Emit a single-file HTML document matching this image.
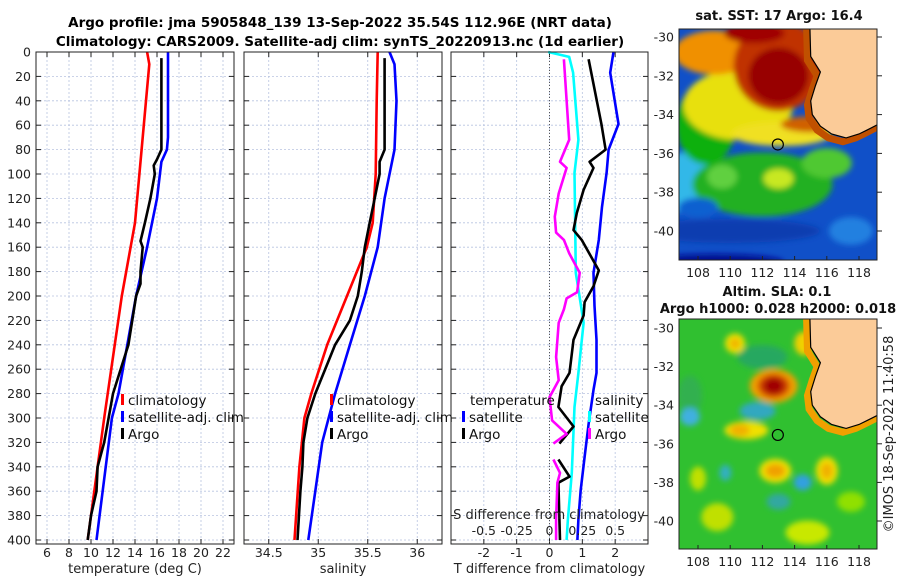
<!DOCTYPE html>
<html><head><meta charset="utf-8"><style>
body{margin:0;background:#fff;}
svg{display:block;font-family:"DejaVu Sans","Liberation Sans",sans-serif;}
</style></head><body>
<svg id="c" width="900" height="580" viewBox="0 0 900 580">
<defs>
<filter id="bl" x="-20%" y="-20%" width="140%" height="140%"><feGaussianBlur stdDeviation="3"/></filter>
<clipPath id="m1"><rect x="679" y="29" width="198" height="231"/></clipPath>
<clipPath id="m2"><rect x="679" y="319" width="198" height="230"/></clipPath>
</defs>
<text x="340" y="27" font-size="13.5" font-weight="bold" text-anchor="middle">Argo profile: jma 5905848_139 13-Sep-2022 35.54S 112.96E (NRT data)</text>
<text x="340" y="46" font-size="13.5" font-weight="bold" text-anchor="middle">Climatology: CARS2009. Satellite-adj clim: synTS_20220913.nc (1d earlier)</text>
<g id="plots"></g>
<g id="maps"></g>
</svg>
<script>
// ---- data (depth in m) ----
const tClimDepth=[0,10,40,80,140,200,300,400];
const tClimVal=[15.1,15.3,15.0,14.6,14.0,12.8,11.2,9.7];
const tSatDepth=[0,70,80,90,120,160,200,280,300,400];
const tSatVal=[17.0,17.0,16.9,16.4,16.0,15.1,14.1,12.5,11.9,10.5];
const tArgoDepth=[5,80,88,93,100,120,140,155,160,180,190,200,240,280,320,340,360,380,400];
const tArgoVal=[16.4,16.4,16.0,15.7,15.8,15.4,14.9,14.5,14.7,14.5,14.5,14.1,13.4,12.0,11.2,10.6,10.5,10.0,9.7];
const sClimDepth=[0,40,100,140,160,200,240,280,300,340,400];
const sClimVal=[35.60,35.59,35.58,35.55,35.49,35.29,35.09,34.93,34.86,34.81,34.76];
const sSatDepth=[0,10,40,80,120,160,200,240,280,320,360,400];
const sSatVal=[35.72,35.77,35.79,35.77,35.67,35.60,35.47,35.32,35.17,35.04,34.97,34.90];
const sArgoDepth=[5,40,80,90,100,120,140,160,180,200,220,240,260,280,300,320,340,360,400];
const sArgoVal=[35.67,35.67,35.67,35.62,35.62,35.57,35.52,35.47,35.44,35.40,35.32,35.17,35.07,34.97,34.89,34.85,34.84,34.82,34.79];
const dTArgoDepth=[6,59,80,90,95,113,132,146,154,179,192,205,216,236,263,274,291,307,321];
const dTArgoVal=[1.19,1.58,1.71,1.22,1.34,1.04,0.83,0.73,0.98,1.5,1.34,1.07,1.04,0.73,0.61,0.37,0.27,0.73,0.30];
const dTArgo2Depth=[334,348,353,383,400];
const dTArgo2Val=[0.27,0.61,0.27,0.30,0.32];
const dSArgoDepth=[6,72,90,95,116,135,148,154,165,181,197,202,211,222,250,269,283,302,313,321];
const dSArgoVal=[0.11,0.15,0.08,0.13,0.07,0.04,0.05,0.11,0.15,0.23,0.21,0.13,0.11,0.07,0.05,0.07,0.0,0.02,0.13,0.03];
const dSArgo2Depth=[334,345,353,383,400];
const dSArgo2Val=[0.03,0.08,0.06,0.05,0.05];
const dSSatDepth=[0,4,17,45,72,99,181,208,222,263,291,345,383,400];
const dSSatVal=[-0.01,0.15,0.18,0.20,0.22,0.19,0.20,0.24,0.26,0.22,0.19,0.17,0.14,0.13];
const dTSatDepth=[0,17,59,80,99,127,154,181,208,236,263,277,305,332,359,383,400];
const dTSatVal=[1.95,1.85,2.1,1.8,1.74,1.6,1.5,1.34,1.37,1.43,1.43,1.34,1.19,1.07,0.95,0.88,0.85];
const depthTicks=[0,20,40,60,80,100,120,140,160,180,200,220,240,260,280,300,320,340,360,380,400];
const tTicks=[6,8,10,12,14,16,18,20,22];
const sTicks=[34.5,35,35.5,36];
const dTTicks=[-2,-1,0,1,2];
const dSTickVals=[-0.5,-0.25,0,0.25,0.5];
const dSTickLabels=["-0.5","-0.25","0","0.25","0.5"];
const lonTicks=[108,110,112,114,116,118];
const latTicks=[-30,-32,-34,-36,-38,-40];

const NS="http://www.w3.org/2000/svg";
function mk(tag,attrs,parent){const e=document.createElementNS(NS,tag);for(const k in attrs)e.setAttribute(k,attrs[k]);parent.appendChild(e);return e;}
const P=document.getElementById('plots');
const Y0=52,Y1=540,YB=544;
const y=d=>Y0+d*(Y1-Y0)/400;
function axis(x0,x1,min,max){return v=>x0+(v-min)*(x1-x0)/(max-min);}
const panels=[
 {x0:36,x1:234,min:5,max:23,ticks:tTicks,label:"temperature (deg C)",name:"temperature-panel"},
 {x0:244,x1:442,min:34.25,max:36.25,ticks:sTicks,label:"salinity",name:"salinity-panel"},
 {x0:451,x1:648,min:-3,max:3,ticks:dTTicks,label:"T difference from climatology",name:"difference-panel"}
];
panels.forEach((p,i)=>{
 const g=mk('g',{},P);
 
 
 p.fx=axis(p.x0,p.x1,p.min,p.max);
 depthTicks.forEach(d=>{
  const l=mk('line',{x1:p.x0,x2:p.x1,y1:y(d),y2:y(d),stroke:'#b8c4e0','stroke-width':0.8,'stroke-dasharray':'2,2'},g);
  
  
  mk('line',{x1:p.x0,x2:p.x0+5,y1:y(d),y2:y(d),stroke:'#222'},g);
  mk('line',{x1:p.x1-5,x2:p.x1,y1:y(d),y2:y(d),stroke:'#222'},g);
  if(i==0){const t=mk('text',{x:p.x0-5,y:y(d)+4.5,'font-size':12.5,'text-anchor':'end',fill:'#222'},g);t.textContent=d;
   }
 });
 p.ticks.forEach(v=>{
  const X=p.fx(v);
  mk('line',{x1:X,x2:X,y1:Y0,y2:YB,stroke:'#b8c4e0','stroke-width':0.8,'stroke-dasharray':'2,2'},g);
  mk('line',{x1:X,x2:X,y1:YB-5,y2:YB,stroke:'#222'},g);
  mk('line',{x1:X,x2:X,y1:Y0,y2:Y0+5,stroke:'#222'},g);
  const t=mk('text',{x:X,y:557,'font-size':12.5,'text-anchor':'middle',fill:'#222'},g);t.textContent=v;
  
 });
 const xt=mk('text',{x:(p.x0+p.x1)/2,y:573,'font-size':13,'text-anchor':'middle',fill:'#222'},g);xt.textContent=p.label;
 
 p.g=g;
});
function line(g,fx,ds,vs,color,name){
 const pts=ds.map((d,i)=>fx(vs[i]).toFixed(1)+','+y(d).toFixed(1)).join(' ');
 const l=mk('polyline',{points:pts,fill:'none',stroke:color,'stroke-width':2.6,'stroke-linejoin':'round'},g);
 
 
}
const [pT,pS,pD]=panels;
line(pT.g,pT.fx,tClimDepth,tClimVal,'#f00','temp-climatology-line');
line(pT.g,pT.fx,tSatDepth,tSatVal,'#00f','temp-satellite-line');
line(pT.g,pT.fx,tArgoDepth,tArgoVal,'#000','temp-argo-line');
line(pS.g,pS.fx,sClimDepth,sClimVal,'#f00','sal-climatology-line');
line(pS.g,pS.fx,sSatDepth,sSatVal,'#00f','sal-satellite-line');
line(pS.g,pS.fx,sArgoDepth,sArgoVal,'#000','sal-argo-line');
const fS=axis(451,648,-0.75,0.75);
mk('line',{x1:pD.fx(0),x2:pD.fx(0),y1:Y0,y2:YB,stroke:'#555','stroke-dasharray':'1,2'},pD.g);
line(pD.g,fS,dSSatDepth,dSSatVal,'#0ff','diff-sal-satellite-line');
line(pD.g,pD.fx,dTSatDepth,dTSatVal,'#00f','diff-temp-satellite-line');
line(pD.g,pD.fx,dTArgoDepth,dTArgoVal,'#000','diff-temp-argo-line');
line(pD.g,pD.fx,dTArgo2Depth,dTArgo2Val,'#000','diff-temp-argo-line-deep');
line(pD.g,fS,dSArgoDepth,dSArgoVal,'#f0f','diff-sal-argo-line');
line(pD.g,fS,dSArgo2Depth,dSArgo2Val,'#f0f','diff-sal-argo-line-deep');
const sl=mk('text',{x:549,y:519,'font-size':13,'text-anchor':'middle',fill:'#222'},pD.g);sl.textContent="S difference from climatology";

dSTickVals.forEach((v,i)=>{const t=mk('text',{x:fS(v),y:535,'font-size':12.5,'text-anchor':'middle',fill:'#222'},pD.g);t.textContent=dSTickLabels[i];
 });
panels.forEach(p=>mk('rect',{x:p.x0,y:Y0,width:p.x1-p.x0,height:YB-Y0,fill:'none',stroke:'#222','stroke-width':1},p.g));
function legend(g,x,yy,items,name){
 const lg=mk('g',{},g);
 items.forEach((it,i)=>{const Y=yy+i*17;
  if(it[1])mk('rect',{x:x,y:Y-11,width:3,height:11,fill:it[1]},lg);
  const t=mk('text',{x:x+7,y:Y,'font-size':13.5,fill:'#111'},lg);t.textContent=it[0];});
}
legend(pT.g,121,405,[["climatology","#f00"],["satellite-adj. clim","#00f"],["Argo","#000"]],'temp-legend');
legend(pS.g,330,405,[["climatology","#f00"],["satellite-adj. clim","#00f"],["Argo","#000"]],'sal-legend');
legend(pD.g,462,405,[["temperature",null],["satellite","#00f"],["Argo","#000"]],'diff-temp-legend');
{const t=pD.g.lastChild.firstChild; t.setAttribute('x',470);}
legend(pD.g,588,405,[["salinity",null],["satellite","#0ff"],["Argo","#f0f"]],'diff-sal-legend');

// ---- maps ----
const M=document.getElementById('maps');
function map(y0,y1,latY30,latY40,clip,name,title,blobs,bg,coastColor){
 const g=mk('g',{},M);
 const lx=lon=>698+(lon-108)*(859-698)/10;
 const ly=lat=>latY30+(-30-lat)*(latY40-latY30)/10;
 const inner=mk('g',{'clip-path':'url(#'+clip+')'},g);
 mk('rect',{x:679,y:y0,width:198,height:y1-y0,fill:bg},inner);
 const bg2=mk('g',{filter:'url(#bl)'},inner);
 blobs.forEach(b=>mk('ellipse',{cx:lx(b[0]),cy:ly(b[1]),rx:b[2],ry:b[3],fill:b[4]},bg2));
 const coast=[[114.9,-28],[115.0,-31],[115.6,-31.8],[115.3,-32.5],[115.0,-33.3],[115.1,-34.0],[115.6,-34.6],[116.3,-35.0],[117.2,-35.2],[118,-35.0],[118.5,-34.8],[119.2,-34.5],[120,-34.4]];
 const cstr=coast.map(c=>lx(c[0]).toFixed(1)+','+ly(c[1]).toFixed(1)).join(' ');
 mk('polyline',{points:coast.map(c=>lx(c[0]-0.2)+','+ly(c[1]-0.2)).join(' '),fill:'none',stroke:coastColor,'stroke-width':7},inner);
 const land=mk('polygon',{points:cstr+' 900,'+ly(-34.3)+' 900,'+(y0-10),fill:'#fbcb98',stroke:'#000','stroke-width':1.2},inner);
 
 const mk1=mk('circle',{cx:lx(112.96),cy:ly(-35.54),r:5.5,fill:'none',stroke:'#000','stroke-width':1.2},g);
 
 mk('rect',{x:679,y:y0,width:198,height:y1-y0,fill:'none',stroke:'#222'},g);
 lonTicks.forEach(v=>{const t=mk('text',{x:lx(v),y:y1+17,'font-size':12.5,'text-anchor':'middle',fill:'#222'},g);t.textContent=v;
  mk('line',{x1:lx(v),x2:lx(v),y1:y1-4,y2:y1,stroke:'#222'},g);});
 latTicks.forEach(v=>{const t=mk('text',{x:674,y:ly(v)+4.5,'font-size':12.5,'text-anchor':'end',fill:'#222'},g);t.textContent=v;
  mk('line',{x1:877,x2:882,y1:ly(v),y2:ly(v),stroke:'#222'},g);});
 title.forEach((s,i)=>{const t=mk('text',{x:s[1],y:s[2],'font-size':13,'font-weight':'bold','text-anchor':'middle',fill:'#111'},g);t.textContent=s[0];
  });
}
map(29,260,37,231,'m1','sst-map',[["sat. SST: 17 Argo: 16.4",779,20]],[
 [107,-37.5,40,30,'#30b8e8'],[112,-37.6,70,32,'#20b020'],[108.5,-34.5,30,40,'#10b010'],
 [110.5,-33.5,55,35,'#e8e010'],[113.2,-35.0,50,12,'#f0e020'],[109,-30.8,40,22,'#f09000'],
 [113,-31.5,45,45,'#c03000'],[113,-32,30,28,'#980000'],[111.5,-29.8,30,10,'#a00000'],
 [113,-37.3,15,10,'#c8e820'],[109.5,-37.2,15,12,'#60d040'],[116,-36.5,25,15,'#50c830'],
 [110,-40,90,12,'#0a3cb0'],[109,-41.6,70,8,'#001090'],[117.5,-40,22,14,'#2080e0'],[108,-38.8,20,10,'#1060d0'],
 [115,-34.5,30,8,'#d06000']
],'#1050c8','#c05000');
map(319,549,328,521,'m2','sla-map',[["Altim. SLA: 0.1",777,296],["Argo h1000: 0.028 h2000: 0.018",778,313]],[
 [112,-31.5,25,12,'#28a860'],[107.5,-33.5,12,20,'#30b050'],
 [110.3,-30.8,10,10,'#f0e000'],[110.3,-30.8,5,5,'#f0b000'],[114.6,-30.8,10,12,'#f0d000'],
 [112.7,-33.0,24,17,'#f0a000'],[112.7,-33.0,16,12,'#d04000'],[112.7,-33.0,10,8,'#a00000'],
 [111.7,-34.3,18,9,'#30a8c0'],[107.5,-34.6,10,9,'#40b0e0'],[111,-35.3,22,9,'#f0e000'],[110.6,-35.3,10,6,'#f0b000'],
 [112.8,-37.4,16,12,'#f0e000'],[112.8,-37.4,10,7,'#f0a000'],[116,-37.4,11,14,'#f0e000'],[116,-37.4,6,8,'#f0b000'],
 [114.5,-38,9,8,'#30a0e0'],[109.7,-37.5,6,8,'#30b0c0'],[109.2,-39.8,16,14,'#c0e000'],[114.8,-40.6,22,12,'#c8e800'],
 [108,-37.8,8,12,'#c0e000'],[113,-39,12,8,'#30a8a0'],[117.5,-39,14,10,'#90e000']
],'#30c030','#f0a000');
const cp=mk('text',{x:893,y:434,'font-size':13,'text-anchor':'middle',fill:'#222',transform:'rotate(-90 893 434)'},M);
cp.textContent="©IMOS 18-Sep-2022 11:40:58";


</script>
</body></html>
